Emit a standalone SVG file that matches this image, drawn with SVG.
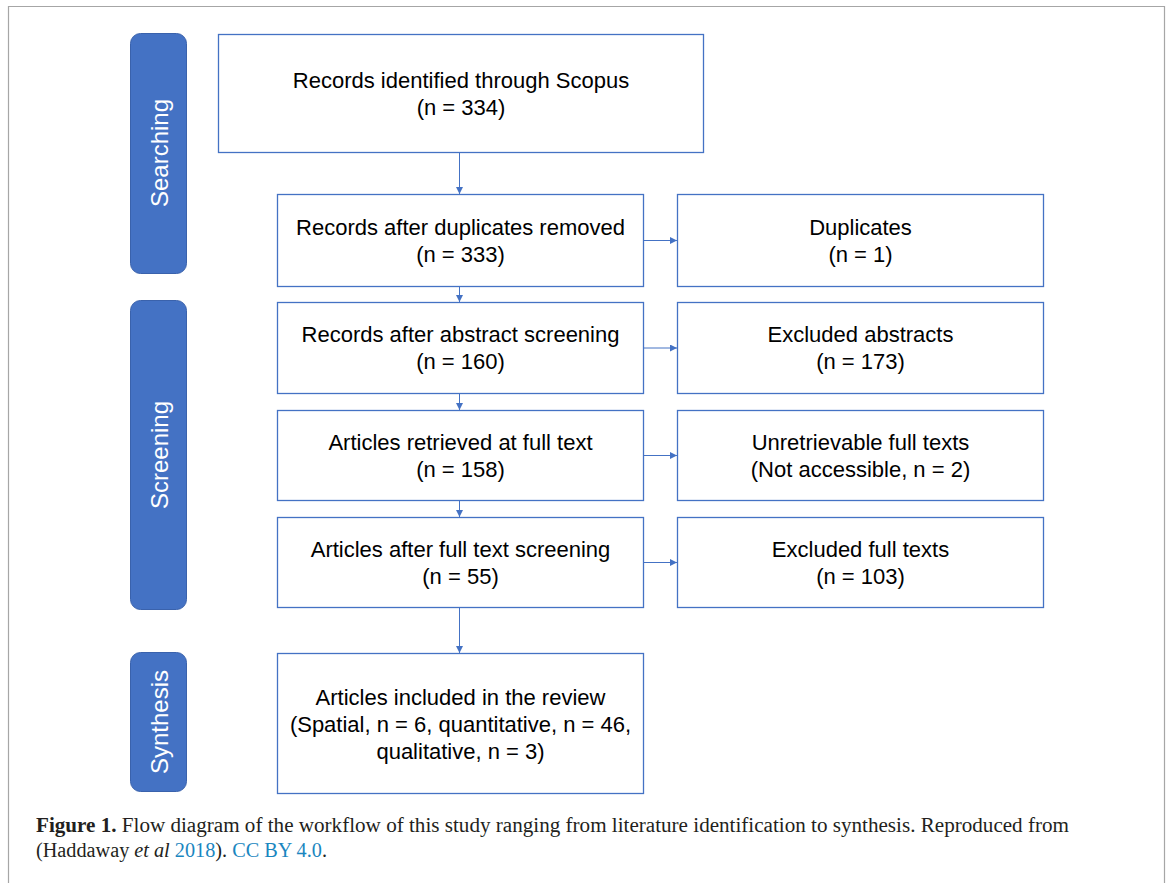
<svg xmlns="http://www.w3.org/2000/svg" width="1168" height="883" viewBox="0 0 1168 883">
  <style>
    .box { fill: #ffffff; stroke: #4472C4; stroke-width: 1.3; }
    .phase { fill: #4472C4; stroke: #3A62AC; stroke-width: 1; }
    .t { font-family: "Liberation Sans", Arial, sans-serif; font-size: 22px; fill: #000000; text-anchor: middle; }
    .pt { font-family: "Liberation Sans", Arial, sans-serif; font-size: 24px; fill: #ffffff; text-anchor: middle; }
    .conn { stroke: #4472C4; stroke-width: 1; fill: none; marker-end: url(#arr); }
    .cap { font-family: "Liberation Serif", "Times New Roman", serif; font-size: 20px; fill: #231f20; }
    .link { fill: #1a86c0; }
  </style>
  <defs>
    <marker id="arr" viewBox="0 0 10 10" refX="10" refY="5" markerWidth="7" markerHeight="7" markerUnits="userSpaceOnUse" orient="auto">
      <path d="M0,0 L10,5 L0,10 z" fill="#4472C4"/>
    </marker>
  </defs>
  <rect x="0" y="0" width="1168" height="883" fill="#ffffff"/>
  <path d="M8.5,883 V6.5 H1164.5 V883" fill="none" stroke="#a6a6a6" stroke-width="1.2"/>

  <g id="phase-searching">
    <rect class="phase" x="130.5" y="33.5" width="56" height="240" rx="10"/>
    <text class="pt" transform="translate(158.5,153) rotate(-90)" y="9">Searching</text>
  </g>
  <g id="phase-screening">
    <rect class="phase" x="130.5" y="300.5" width="56" height="309" rx="10"/>
    <text class="pt" transform="translate(158.5,455) rotate(-90)" y="9">Screening</text>
  </g>
  <g id="phase-synthesis">
    <rect class="phase" x="130.5" y="652.5" width="56" height="139" rx="10"/>
    <text class="pt" transform="translate(158.5,722) rotate(-90)" y="9">Synthesis</text>
  </g>

  <g id="identified">
    <rect class="box" x="218.5" y="34.5" width="485" height="118"/>
    <text class="t" x="461" y="88">Records identified through Scopus</text>
    <text class="t" x="461" y="115">(n = 334)</text>
  </g>
  <g id="dedup">
    <rect class="box" x="277.5" y="194.5" width="366" height="92"/>
    <text class="t" x="460.5" y="235">Records after duplicates removed</text>
    <text class="t" x="460.5" y="262">(n = 333)</text>
  </g>
  <g id="duplicates">
    <rect class="box" x="677.5" y="194.5" width="366" height="92"/>
    <text class="t" x="860.5" y="235">Duplicates</text>
    <text class="t" x="860.5" y="262">(n = 1)</text>
  </g>
  <g id="abstract">
    <rect class="box" x="277.5" y="302.5" width="366" height="91"/>
    <text class="t" x="460.5" y="342">Records after abstract screening</text>
    <text class="t" x="460.5" y="369">(n = 160)</text>
  </g>
  <g id="excl-abstracts">
    <rect class="box" x="677.5" y="302.5" width="366" height="91"/>
    <text class="t" x="860.5" y="342">Excluded abstracts</text>
    <text class="t" x="860.5" y="369">(n = 173)</text>
  </g>
  <g id="retrieved">
    <rect class="box" x="277.5" y="410.5" width="366" height="90"/>
    <text class="t" x="460.5" y="450">Articles retrieved at full text</text>
    <text class="t" x="460.5" y="477">(n = 158)</text>
  </g>
  <g id="unretrievable">
    <rect class="box" x="677.5" y="410.5" width="366" height="90"/>
    <text class="t" x="860.5" y="450">Unretrievable full texts</text>
    <text class="t" x="860.5" y="477">(Not accessible, n = 2)</text>
  </g>
  <g id="fulltext">
    <rect class="box" x="277.5" y="517.5" width="366" height="90"/>
    <text class="t" x="460.5" y="557">Articles after full text screening</text>
    <text class="t" x="460.5" y="584">(n = 55)</text>
  </g>
  <g id="excl-fulltext">
    <rect class="box" x="677.5" y="517.5" width="366" height="90"/>
    <text class="t" x="860.5" y="557">Excluded full texts</text>
    <text class="t" x="860.5" y="584">(n = 103)</text>
  </g>
  <g id="included">
    <rect class="box" x="277.5" y="653.5" width="366" height="140"/>
    <text class="t" x="460.5" y="705">Articles included in the review</text>
    <text class="t" x="460.5" y="732">(Spatial, n = 6, quantitative, n = 46,</text>
    <text class="t" x="460.5" y="759">qualitative, n = 3)</text>
  </g>

  <g id="connectors">
    <line class="conn" x1="459.5" y1="153" x2="459.5" y2="194"/>
    <line class="conn" x1="459.5" y1="287" x2="459.5" y2="302"/>
    <line class="conn" x1="459.5" y1="394" x2="459.5" y2="410"/>
    <line class="conn" x1="459.5" y1="501" x2="459.5" y2="517"/>
    <line class="conn" x1="459.5" y1="608" x2="459.5" y2="653"/>
    <line class="conn" x1="644" y1="240.5" x2="677" y2="240.5"/>
    <line class="conn" x1="644" y1="348" x2="677" y2="348"/>
    <line class="conn" x1="644" y1="455.5" x2="677" y2="455.5"/>
    <line class="conn" x1="644" y1="562.5" x2="677" y2="562.5"/>
  </g>

  <g id="caption">
    <text class="cap" x="36" y="832" textLength="1033" lengthAdjust="spacingAndGlyphs"><tspan font-weight="bold">Figure 1.</tspan> Flow diagram of the workflow of this study ranging from literature identification to synthesis. Reproduced from</text>
    <text class="cap" x="36" y="857" textLength="291" lengthAdjust="spacingAndGlyphs">(Haddaway <tspan font-style="italic">et al</tspan> <tspan class="link">2018</tspan>). <tspan class="link">CC BY 4.0</tspan>.</text>
  </g>
</svg>
